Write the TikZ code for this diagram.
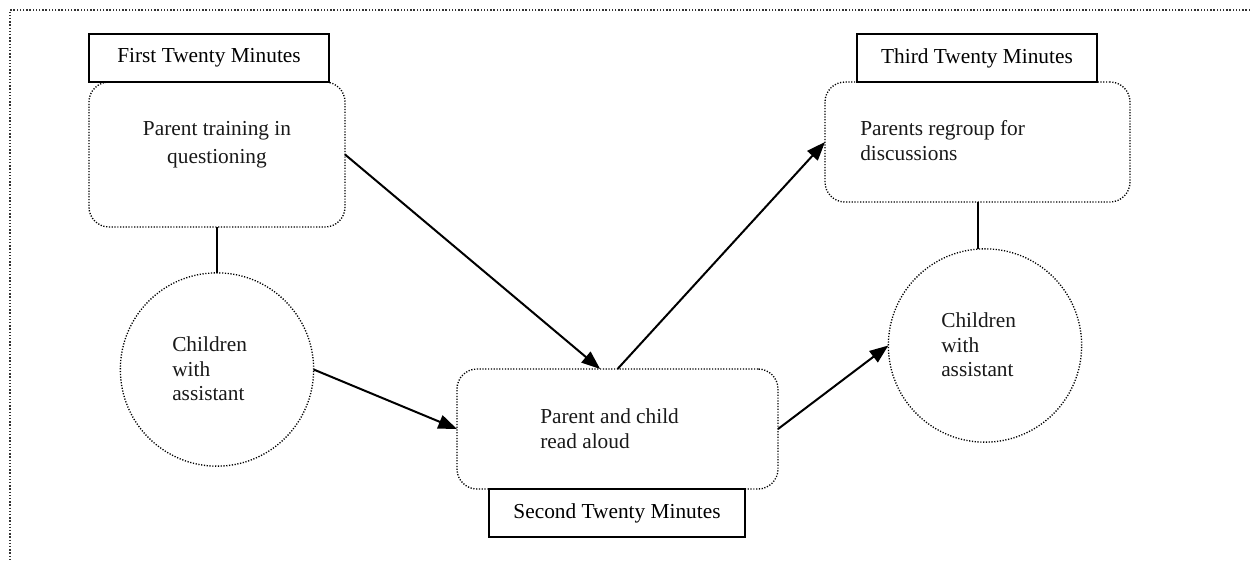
\documentclass[tikz,border=0pt]{standalone}
\usepackage{fontspec}
\setmainfont{Liberation Serif}
\usetikzlibrary{arrows.meta}
\begin{document}
\begin{tikzpicture}[x=0.75pt,y=-0.75pt,
  txt/.style={font=\fontsize{16}{19}\selectfont, inner sep=0pt, text=black!90},
  border/.style={draw=black!80, line width=1.1pt, dash pattern=on 1.1pt off 1.3pt},
  roundbox/.style={draw=black, line width=1pt, dash pattern=on 0.9pt off 1.2pt, rounded corners=15pt, inner sep=0pt, outer sep=0pt},
  circbox/.style={circle, draw=black, line width=1pt, dash pattern=on 0.9pt off 1.2pt, inner sep=0pt, outer sep=0pt, minimum size=145pt},
  titlebox/.style={draw=black, line width=1.6pt, fill=white, inner sep=0pt, outer sep=0pt, minimum height=36pt, font=\fontsize{16}{19}\selectfont},
  link/.style={draw=black, line width=1.5pt},
  arrowlink/.style={link, -{Triangle[length=14pt,width=10.5pt]}}
]
\useasboundingbox (0,0) rectangle (1250,561);
\draw[border] (1250,10) -- (10,10) -- (10,561);

% rounded boxes
\node[roundbox, minimum width=192pt, minimum height=108.75pt] (rb1) at (217,154.5) {};
\node[roundbox, minimum width=240.75pt, minimum height=90pt] (rb2) at (617.5,429) {};
\node[roundbox, minimum width=228.75pt, minimum height=90pt] (rb3) at (977.5,142) {};

% circles
\node[circbox] (c1) at (217,369.5) {};
\node[circbox] (c2) at (985,345.5) {};

% title boxes
\node[titlebox, minimum width=180pt] (tt1) at (209,58) {First Twenty Minutes};
\node[titlebox, minimum width=192pt] (tt2) at (617,513) {Second Twenty Minutes};
\node[titlebox, minimum width=180pt] (tt3) at (977,58) {Third Twenty Minutes};

% texts
\node[txt, anchor=base] (a1) at (217,135) {Parent training in};
\node[txt, anchor=base] (a2) at (217,163) {questioning};
\node[txt, anchor=base west] (b1) at (540,423) {Parent and child};
\node[txt, anchor=base west] (b2) at (540,448) {read aloud};
\node[txt, anchor=base west] (d1) at (860,135) {Parents regroup for};
\node[txt, anchor=base west] (d2) at (860,160) {discussions};
\node[txt, anchor=base west] (e1) at (172,351) {Children};
\node[txt, anchor=base west] (e2) at (172,376) {with};
\node[txt, anchor=base west] (e3) at (172,400) {assistant};
\node[txt, anchor=base west] (f1) at (941,327) {Children};
\node[txt, anchor=base west] (f2) at (941,352) {with};
\node[txt, anchor=base west] (f3) at (941,376) {assistant};

% connectors
\draw[link] (rb1.south) -- (c1.north);
\draw[link] (rb3.south) -- (rb3.south |- c2.north);
\draw[arrowlink] (rb1.east) -- ([xshift=-13pt]rb2.north);
\draw[arrowlink] (c1.east) -- (rb2.west);
\draw[arrowlink] (rb2.north) -- (rb3.west);
\draw[arrowlink] (rb2.east) -- (c2.west);
\end{tikzpicture}
\end{document}
